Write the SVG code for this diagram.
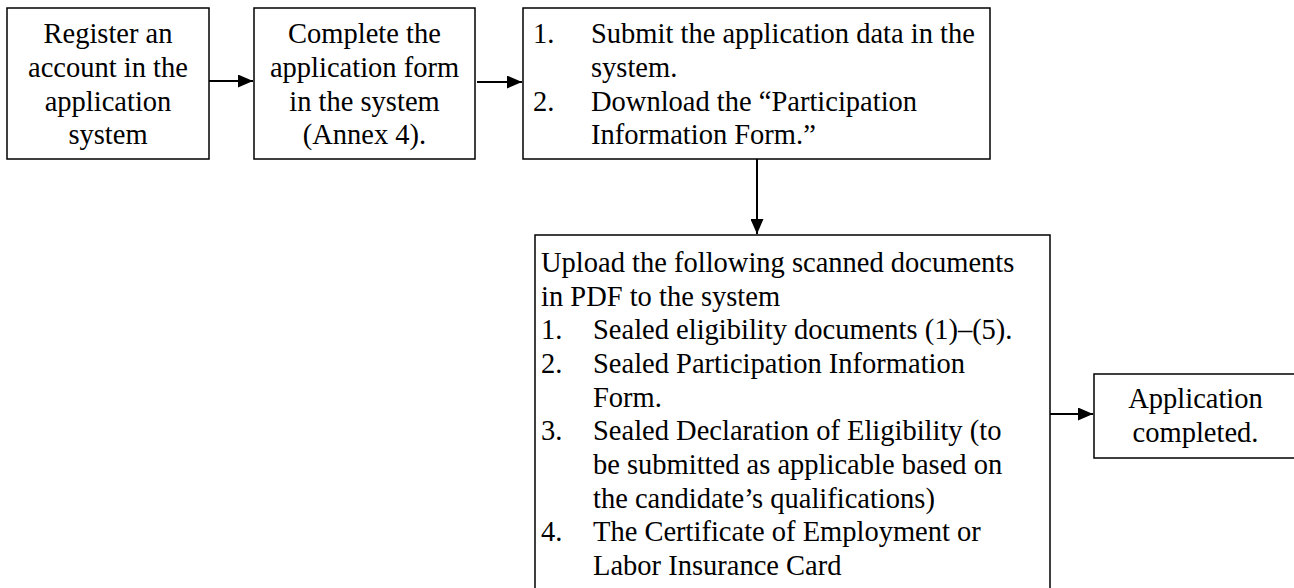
<svg xmlns="http://www.w3.org/2000/svg" width="1294" height="588" viewBox="0 0 1294 588">
<defs>
<style>
.box{fill:#fff;stroke:#000;stroke-width:1.5}
.t{font-family:"Liberation Serif","Times New Roman",serif;font-size:28.5px;fill:#000}
.c{text-anchor:middle}
.conn{stroke:#000;stroke-width:2;fill:none}
</style>
<marker id="ah" markerWidth="15" markerHeight="13" refX="15" refY="6.5" orient="auto" markerUnits="userSpaceOnUse">
<path d="M0,0 L15,6.5 L0,13 Z" fill="#000"/>
</marker>
</defs>
<rect width="1294" height="588" fill="#fff"/>
<g id="n1">
<rect class="box" x="7" y="8" width="202" height="151"/>
<text class="t c" x="108" y="43">Register an</text>
<text class="t c" x="108" y="77">account in the</text>
<text class="t c" x="108" y="110.5">application</text>
<text class="t c" x="108" y="144">system</text>
</g>
<g id="n2">
<rect class="box" x="254" y="8" width="221" height="151"/>
<text class="t c" x="364.5" y="43">Complete the</text>
<text class="t c" x="364.5" y="77">application form</text>
<text class="t c" x="364.5" y="110.5">in the system</text>
<text class="t c" x="364.5" y="144">(Annex 4).</text>
</g>
<g id="n3">
<rect class="box" x="523" y="8" width="467" height="151"/>
<text class="t" x="533" y="43">1.</text>
<text class="t" x="591" y="43">Submit the application data in the</text>
<text class="t" x="591" y="77">system.</text>
<text class="t" x="533" y="110.5">2.</text>
<text class="t" x="591" y="110.5">Download the “Participation</text>
<text class="t" x="591" y="144">Information Form.”</text>
</g>
<g id="n4">
<rect class="box" x="535" y="235" width="515" height="360"/>
<text class="t" x="541" y="272">Upload the following scanned documents</text>
<text class="t" x="541" y="305.5">in PDF to the system</text>
<text class="t" x="541" y="339">1.</text>
<text class="t" x="593" y="339">Sealed eligibility documents (1)–(5).</text>
<text class="t" x="541" y="373">2.</text>
<text class="t" x="593" y="373">Sealed Participation Information</text>
<text class="t" x="593" y="406.5">Form.</text>
<text class="t" x="541" y="440">3.</text>
<text class="t" x="593" y="440">Sealed Declaration of Eligibility (to</text>
<text class="t" x="593" y="474">be submitted as applicable based on</text>
<text class="t" x="593" y="507.5">the candidate’s qualifications)</text>
<text class="t" x="541" y="541">4.</text>
<text class="t" x="593" y="541">The Certificate of Employment or</text>
<text class="t" x="593" y="575">Labor Insurance Card</text>
</g>
<g id="n5">
<rect class="box" x="1094" y="374" width="210" height="84"/>
<text class="t c" x="1195.5" y="408">Application</text>
<text class="t c" x="1195.5" y="442">completed.</text>
</g>
<g id="connectors">
<line class="conn" x1="209" y1="81" x2="253" y2="81" marker-end="url(#ah)"/>
<line class="conn" x1="477" y1="82" x2="522" y2="82" marker-end="url(#ah)"/>
<line class="conn" x1="757" y1="159" x2="757" y2="234" marker-end="url(#ah)"/>
<line class="conn" x1="1050" y1="414" x2="1093" y2="414" marker-end="url(#ah)"/>
</g>
</svg>
